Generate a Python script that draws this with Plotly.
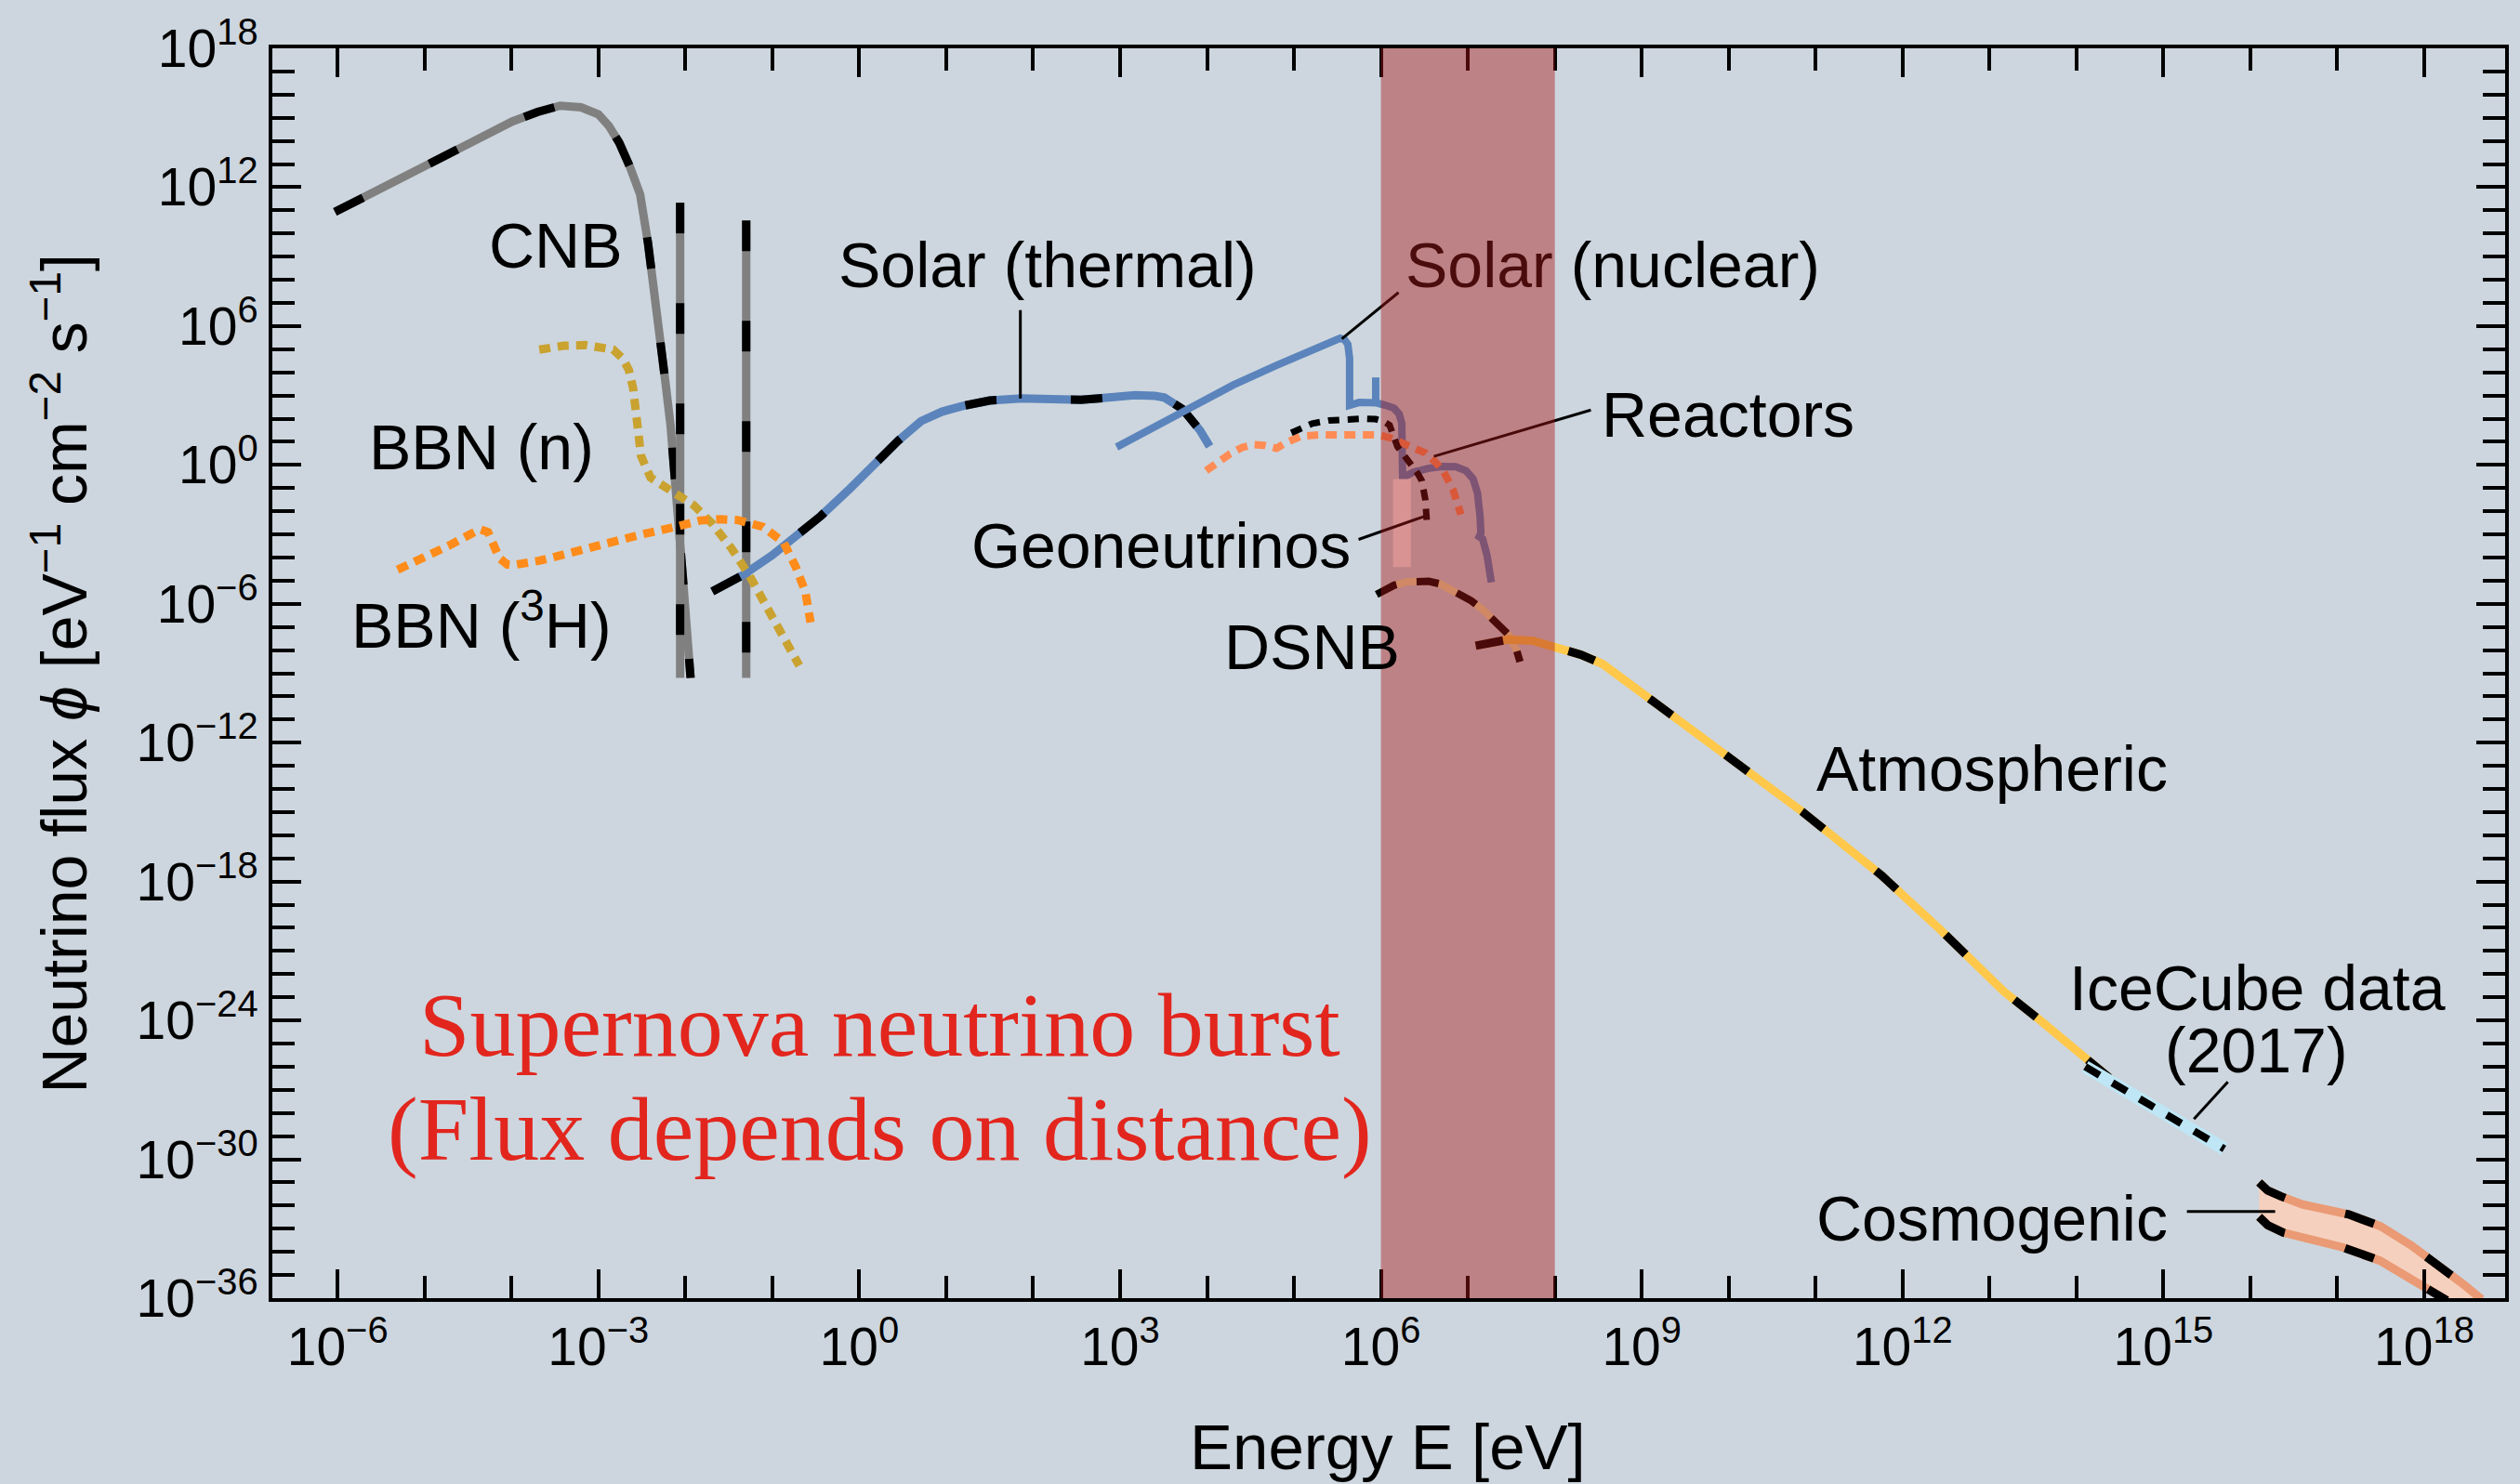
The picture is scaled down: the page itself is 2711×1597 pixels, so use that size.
import numpy as np
import plotly.graph_objects as go

# ---------------- data: log10(E / eV), log10(flux) ----------------
cnb_logE = [-6.03, -5.5, -4.97, -4.5, -3.99, -3.7, -3.44, -3.2, -3.0, -2.88, -2.76, -2.64, -2.52, -2.43,
            -2.36, -2.29, -2.23, -2.17, -2.12, -2.08, -2.03, -1.98, -1.94]
cnb_logF = [10.93, 11.95, 13.0, 13.95, 14.84, 15.25, 15.52, 15.45, 15.15, 14.65, 13.92, 12.9, 11.69, 9.6,
            7.7, 5.6, 3.6, 1.7, -0.2, -2.5, -4.8, -6.8, -9.2]

cnb_mass_logE = [-2.06, -1.30]          # massive-neutrino CNB lines
cnb_mass_top = [11.33, 10.56]
cnb_mass_bottom = [-9.2, -9.2]

bbn_n_logE = [-3.68, -3.4, -3.15, -2.95, -2.83, -2.72, -2.65, -2.60, -2.58, -2.55, -2.54, -2.51, -2.4,
              -2.19, -1.9, -1.69, -1.47, -1.26, -1.04, -0.87, -0.69]
bbn_n_logF = [4.98, 5.15, 5.18, 5.1, 4.98, 4.6, 4.1, 3.3, 2.52, 1.5, 0.92, 0.39, -0.55,
              -1.07, -1.75, -2.54, -3.6, -4.8, -6.27, -7.47, -8.67]

bbn_h3_logE = [-5.31, -5.0, -4.7, -4.45, -4.36, -4.27, -4.2, -4.14, -4.05, -3.99, -3.68, -3.3, -2.97,
               -2.5, -2.11, -1.83, -1.6, -1.4, -1.11, -0.87, -0.73, -0.62, -0.56]
bbn_h3_logF = [-4.53, -4.0, -3.45, -2.95, -2.78, -2.9, -3.5, -4.02, -4.3, -4.33, -4.14, -3.75, -3.41,
               -3.0, -2.67, -2.4, -2.35, -2.38, -2.67, -3.34, -4.41, -5.47, -6.8]

solar_th_logE = [-1.69, -1.33, -1.0, -0.72, -0.44, -0.1, 0.17, 0.45, 0.71, 0.95, 1.19, 1.5, 1.87, 2.2,
                 2.55, 2.9, 3.17, 3.4, 3.51, 3.72, 3.92, 4.03]
solar_th_logF = [-5.47, -4.74, -3.9, -3.08, -2.2, -1.0, 0.05, 1.05, 1.89, 2.3, 2.55, 2.78, 2.87, 2.85,
                 2.81, 2.92, 3.01, 2.98, 2.91, 2.41, 1.49, 0.8]

solar_nu_logE = [2.96, 3.68, 4.3, 4.8, 5.2, 5.45, 5.53, 5.58, 5.62, 5.64, 5.64, 5.75, 5.85, 5.95, 6.05,
                 6.15, 6.21, 6.24, 6.25, 6.30, 6.37, 6.54, 6.70, 6.86, 6.98, 7.06, 7.11, 7.14, 7.15,
                 7.13, 7.17, 7.22, 7.25, 7.27]
solar_nu_logF = [0.77, 2.25, 3.45, 4.3, 4.95, 5.35, 5.47, 5.42, 5.2, 4.6, 2.58, 2.70, 2.73, 2.68, 2.58,
                 2.45, 2.2, 1.8, -0.55, -0.45, -0.32, -0.15, -0.07, -0.08, -0.25, -0.6, -1.2, -2.2, -2.94,
                 -3.1, -3.2, -3.9, -4.5, -5.07]
solar_be7_logE = [5.94, 5.94]
solar_be7_logF = [2.68, 3.78]

reactor_logE = [3.99, 4.12, 4.26, 4.4, 4.53, 4.65, 4.8, 4.9, 5.08, 5.3, 5.49, 5.7, 5.97, 6.1, 6.22,
                6.38, 6.51, 6.62, 6.72, 6.83, 6.92]
reactor_logF = [-0.25, 0.12, 0.47, 0.75, 0.88, 0.85, 0.72, 0.95, 1.24, 1.3, 1.32, 1.32, 1.3, 1.18, 0.99,
                0.8, 0.52, 0.15, -0.28, -1.07, -2.14]

geo_logE = [4.97, 5.1, 5.21, 5.4, 5.62, 5.8, 5.94, 6.03, 6.1, 6.19, 6.26, 6.33, 6.42, 6.47, 6.51, 6.53]
geo_logF = [1.39, 1.62, 1.79, 1.92, 1.98, 2.0, 1.98, 1.88, 1.72, 0.79, 0.45, 0.12, -0.35, -0.68, -1.48, -2.54]
geo_box_logE = [6.14, 6.345, 6.345, 6.14, 6.14]
geo_box_logF = [-0.61, -0.61, -4.41, -4.41, -0.61]

dsnb_logE = [5.95, 6.05, 6.15, 6.3, 6.43, 6.55, 6.68, 6.85, 7.04, 7.17, 7.29, 7.4, 7.47, 7.56, 7.6]
dsnb_logF = [-5.6, -5.38, -5.2, -5.05, -5.0, -5.03, -5.14, -5.45, -5.87, -6.25, -6.67, -7.05, -7.34, -8.0, -8.5]

atm_logE = [7.09, 7.3, 7.47, 7.75, 8.0, 8.3, 8.55, 9.04, 9.5, 9.94, 10.4, 10.85, 11.3, 11.76, 12.42,
            12.8, 13.17, 13.55, 13.91, 14.15, 14.4]
atm_logF = [-7.81, -7.65, -7.54, -7.6, -7.85, -8.2, -8.6, -9.97, -11.2, -12.48, -13.75, -14.99, -16.35,
            -17.74, -20.03, -21.4, -22.77, -23.9, -25.06, -25.8, -26.55]

icecube_logE = [14.1, 14.9, 15.7]
icecube_logF = [-26.0, -27.75, -29.55]

cosmo_hi_logE = [16.1, 16.2, 16.35, 16.6, 17.13, 17.5, 17.85, 18.2, 18.45, 18.66]
cosmo_hi_logF = [-31.0, -31.35, -31.6, -31.95, -32.38, -32.9, -33.72, -34.65, -35.4, -36.05]
cosmo_lo_logE = [16.1, 16.2, 16.38, 16.7, 17.06, 17.49, 17.95, 18.26]
cosmo_lo_logF = [-32.49, -32.85, -33.17, -33.5, -33.8, -34.38, -35.38, -36.1]

sn_burst_logE = [6.0, 8.0]            # supernova burst energy window

x_tick_exp = list(range(-6, 19, 3))
y_tick_exp = list(range(-36, 19, 6))

# labels: (text, log10 E, log10 flux)
labels = [
    ("CNB", -3.49, 9.49),
    ("Solar (thermal)", 2.163, 8.65),
    ("<span style='color:#4a0c0c'>Solar</span> (nuclear)", 8.671, 8.65),
    ("Reactors", 9.997, 2.19),
    ("Geoneutrinos", 3.474, -3.46),
    ("DSNB", 5.209, -7.84),
    ("BBN (n)", -4.348, 0.77),
    ("BBN (<sup>3</sup>H)", -4.342, -6.72),
    ("Atmospheric", 13.032, -13.12),
    ("IceCube data", 16.083, -22.61),
    ("(2017)", 16.074, -25.28),
    ("Cosmogenic", 13.032, -32.55),
]
# leader lines: (logE0, logF0, logE1, logF1)
leaders = [
    (1.853, 6.69, 1.853, 2.87),
    (6.203, 7.45, 5.551, 5.45),
    (8.415, 2.37, 6.609, 0.37),
    (5.743, -3.22, 6.502, -2.22),
    (15.741, -26.66, 15.351, -28.26),
    (15.27, -32.26, 16.285, -32.26),
]

BG = "#CDD6DE"
FONT = "Liberation Sans, Arial, sans-serif"


def p10(a):
    return np.power(10.0, np.asarray(a, dtype=float))


fig = go.Figure()


def dashed(xl, yl, color, width=9, dash="33px,75px", dash_w=None):
    fig.add_trace(go.Scatter(x=p10(xl), y=p10(yl), mode="lines",
                             line=dict(color=color, width=width), hoverinfo="skip"))
    fig.add_trace(go.Scatter(x=p10(xl), y=p10(yl), mode="lines",
                             line=dict(color="black", width=dash_w or width, dash=dash),
                             hoverinfo="skip"))


def dotted(xl, yl, color, width=9, dash="12px,8px"):
    fig.add_trace(go.Scatter(x=p10(xl), y=p10(yl), mode="lines",
                             line=dict(color=color, width=width, dash=dash), hoverinfo="skip"))


# CNB
dashed(cnb_logE, cnb_logF, "#808080", dash="34px,80px")
for e, top, bot in zip(cnb_mass_logE, cnb_mass_top, cnb_mass_bottom):
    dashed([e, e], [top, bot], "#808080", dash="33px,75px")

# Solar thermal
dashed(solar_th_logE, solar_th_logF, "#5B84BC", dash="34px,80px")

# BBN
dotted(bbn_n_logE, bbn_n_logF, "#C9A230")
dotted(bbn_h3_logE, bbn_h3_logF, "#FF8C1A")

# Solar nuclear
fig.add_trace(go.Scatter(x=p10(solar_nu_logE), y=p10(solar_nu_logF), mode="lines",
                         line=dict(color="#5B84BC", width=8), hoverinfo="skip"))
fig.add_trace(go.Scatter(x=p10(solar_be7_logE), y=p10(solar_be7_logF), mode="lines",
                         line=dict(color="#5B84BC", width=8), hoverinfo="skip"))

# Reactors
dotted(reactor_logE, reactor_logF, "#FF8C55", width=8)

# Geoneutrinos
fig.add_trace(go.Scatter(x=p10(geo_box_logE), y=p10(geo_box_logF), mode="lines", fill="toself",
                         fillcolor="#FFF4F4", line=dict(width=0), hoverinfo="skip"))
dotted(geo_logE, geo_logF, "black", width=7, dash="12px,9px")

# DSNB
dashed(dsnb_logE, dsnb_logF, "#EFE2A0", width=8, dash="24px,22px")

# Atmospheric
dashed(atm_logE, atm_logF, "#FFC84A", dash="30px,72px")

# IceCube
fig.add_trace(go.Scatter(x=p10(icecube_logE), y=p10(icecube_logF), mode="lines",
                         line=dict(color="#BEE6F5", width=14), hoverinfo="skip"))
fig.add_trace(go.Scatter(x=p10(icecube_logE), y=p10(icecube_logF), mode="lines",
                         line=dict(color="black", width=8, dash="18px,16px"), hoverinfo="skip"))

# Cosmogenic band
fig.add_trace(go.Scatter(x=p10(list(cosmo_hi_logE) + list(cosmo_lo_logE[::-1])),
                         y=p10(list(cosmo_hi_logF) + list(cosmo_lo_logF[::-1])),
                         mode="lines", fill="toself", fillcolor="#F5D0BE", line=dict(width=0),
                         hoverinfo="skip"))
dashed(cosmo_hi_logE, cosmo_hi_logF, "#EA9A74", dash="33px,67px")
dashed(cosmo_lo_logE, cosmo_lo_logF, "#EA9A74", dash="33px,67px")

# ---------------- shapes ----------------
shapes = []
for x0, y0, x1, y1 in leaders:
    shapes.append(dict(type="line", xref="x", yref="y", x0=10 ** x0, y0=10 ** y0, x1=10 ** x1,
                       y1=10 ** y1, line=dict(color="black", width=3), layer="above"))
shapes.append(dict(type="rect", xref="x", yref="paper", x0=10 ** sn_burst_logE[0],
                   x1=10 ** sn_burst_logE[1], y0=0, y1=1, fillcolor="rgba(169,22,22,0.44)",
                   line=dict(width=0), layer="above"))

# ---------------- annotations ----------------
ann = []
for txt, lx, ly in labels:
    ann.append(dict(text=txt, x=lx, y=ly, xref="x", yref="y", showarrow=False,
                    xanchor="center", yanchor="middle", font=dict(family=FONT, size=68, color="black")))
ann.append(dict(text="Supernova neutrino burst", x=0.239, y=-24.21, xref="x", yref="y",
                showarrow=False, xanchor="center", yanchor="middle",
                font=dict(family="Liberation Serif, Times New Roman, serif", size=98, color="#E2261E")))
ann.append(dict(text="(Flux depends on distance)", x=0.239, y=-28.68, xref="x", yref="y",
                showarrow=False, xanchor="center", yanchor="middle",
                font=dict(family="Liberation Serif, Times New Roman, serif", size=98, color="#E2261E")))
# axis titles
ann.append(dict(text="Energy E [eV]", x=(1493.5 - 293) / 2403, y=(1397 - 1558) / 1351,
                xref="paper", yref="paper", showarrow=False, xanchor="center", yanchor="middle",
                font=dict(family=FONT, size=69, color="black")))
ann.append(dict(text="Neutrino flux <i>ϕ</i> [eV<sup>−1</sup> cm<sup>−2</sup> s<sup>−1</sup>]",
                x=(64 - 293) / 2403, y=(1397 - 721.5) / 1351, textangle=-90,
                xref="paper", yref="paper", showarrow=False, xanchor="center", yanchor="middle",
                font=dict(family=FONT, size=68, color="black")))


def ticktxt(k):
    return "10<sup>" + ("−" if k < 0 else "") + str(abs(k)) + "</sup>"


axis_common = dict(type="log", showgrid=False, zeroline=False, showline=True, linewidth=4,
                   linecolor="black", mirror="allticks", ticks="inside", ticklen=31, tickwidth=4,
                   tickcolor="black", tickfont=dict(family=FONT, size=57, color="black"),
                   tickmode="array")

fig.update_layout(
    width=2711, height=1597,
    margin=dict(l=293, r=15, t=46, b=200),
    paper_bgcolor=BG, plot_bgcolor=BG,
    showlegend=False,
    shapes=shapes, annotations=ann,
    xaxis=dict(axis_common, range=[-6.75, 18.93],
               tickvals=[10.0 ** k for k in x_tick_exp], ticktext=[ticktxt(k) for k in x_tick_exp],
               minor=dict(tickmode="array", tickvals=[10.0 ** k for k in range(-6, 19)],
                          ticks="inside", ticklen=24, tickwidth=4, tickcolor="black")),
    yaxis=dict(axis_common, range=[-36, 18],
               tickvals=[10.0 ** k for k in y_tick_exp], ticktext=[ticktxt(k) for k in y_tick_exp],
               minor=dict(tickmode="array", tickvals=[10.0 ** k for k in range(-36, 19)],
                          ticks="inside", ticklen=24, tickwidth=4, tickcolor="black")),
)

fig.write_html("out.html")
